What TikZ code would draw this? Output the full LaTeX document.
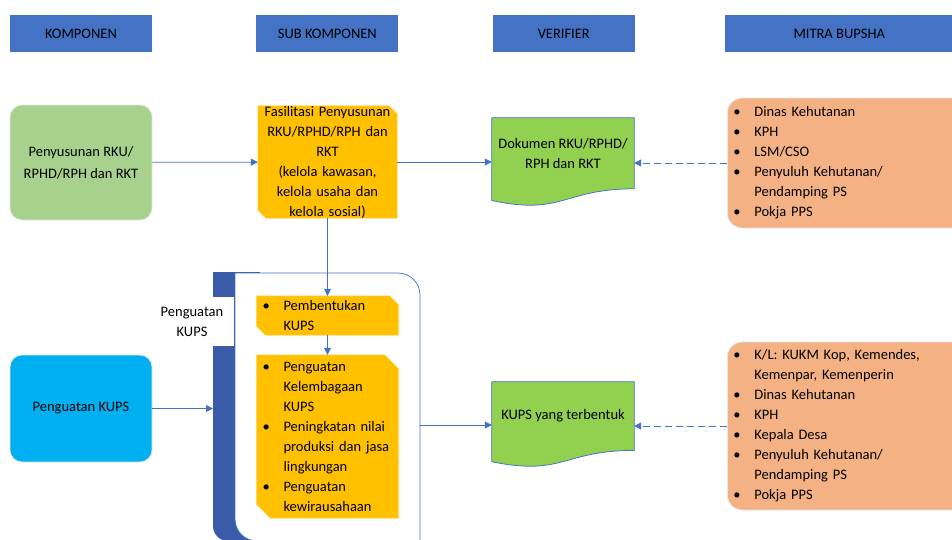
\documentclass[tikz,border=0pt]{standalone}
\usepackage{fontspec}
\setmainfont{Carlito}
\usepackage{tikz}
\usetikzlibrary{arrows.meta, positioning, calc}
\definecolor{hdrblue}{HTML}{4472C4}
\definecolor{barblue}{HTML}{3A5BA8}
\definecolor{leafgreen}{HTML}{A9D18E}
\definecolor{skyblue}{HTML}{00B0F0}
\definecolor{gold}{HTML}{FFC000}
\definecolor{docgreen}{HTML}{92D050}
\definecolor{peach}{HTML}{F4B183}
\pgfdeclarelayer{panel}
\pgfdeclarelayer{shapes}
\pgfsetlayers{panel,shapes,main}
\newcommand{\bodyfont}{\fontsize{14.5pt}{20pt}\selectfont}
\newcommand{\bitem}[1]{\makebox[21pt][l]{\textbullet}\mbox{#1}}
\newcommand{\bcont}[1]{\hspace*{21pt}\mbox{#1}}
% snipped box behind a node
\newcommand{\snipfill}[2]{%
  \fill[gold, draw=gold!55!white, line width=0.6pt]
    (#1.north west) -- ($(#1.north east)+(-#2,0)$) -- ($(#1.north east)+(0,-#2)$)
    -- (#1.south east) -- ($(#1.south west)+(#2,0)$) -- ($(#1.south west)+(0,#2)$) -- cycle;}
% document shape behind a node
\newcommand{\docfill}[1]{%
  \fill[docgreen, draw=hdrblue, line width=0.75pt]
    (#1.north west) -- (#1.north east) -- (#1.south east)
    .. controls (#1.south) and ($(#1.north)!1.38!(#1.south)$)
    .. ($(#1.north west)!1.165!(#1.south west)$) -- cycle;}
\tikzset{
  hdr/.style={
    rectangle, fill=hdrblue,
    minimum width=142pt, minimum height=37pt,
    inner sep=0pt, font=\bodyfont,
  },
  komp/.style={
    rectangle, rounded corners=12pt,
    minimum width=142pt, align=center,
    draw=white!80!gray, line width=0.75pt, font=\bodyfont,
  },
  snip/.style={
    text width=139pt, inner sep=0pt,
    align=center, font=\bodyfont,
  },
  sniplist/.style={
    text width=130pt, minimum width=142pt, inner sep=0pt,
    align=left, font=\bodyfont,
  },
  doc/.style={
    minimum width=142pt, inner sep=0pt,
    align=center, font=\bodyfont,
  },
  mitra/.style={
    rectangle, rounded corners=15pt, anchor=west,
    text width=236pt, inner xsep=6pt, align=left,
    fill=peach, draw=white!80!gray, line width=0.75pt, font=\bodyfont,
  },
  arrow/.style={-{Triangle[length=7pt,width=7pt]}, draw=hdrblue, line width=0.75pt},
  dasharrow/.style={arrow, dash pattern=on 7pt off 4pt, line width=1pt},
}
\begin{document}
\begin{tikzpicture}[x=1pt, y=-1pt]
  \useasboundingbox (0,0) rectangle (952,539);

  % column headers
  \node[hdr] (hkomp) at (81,33.5) {KOMPONEN};
  \node[hdr, right=104pt of hkomp] (hsub) {SUB KOMPONEN};
  \node[hdr, right=94pt of hsub] (hver) {VERIFIER};
  \node[hdr, minimum width=228pt, right=90pt of hver] (hmitra) {MITRA BUPSHA};

  % first row
  \node[komp, fill=leafgreen, minimum height=115pt] (penyusunan) at (81,162.5) {Penyusunan RKU/\\[2pt]RPHD/RPH dan RKT};
  \node[snip, minimum height=112pt] (fasilitasi) at (327.5,162) {Fasilitasi Penyusunan\\RKU/RPHD/RPH dan\\RKT\\(kelola kawasan,\\kelola usaha dan\\kelola sosial)};
  \node[doc, minimum height=70.6pt] (dok1) at (563,153.3) {Dokumen RKU/RPHD/\\RPH dan RKT};
  \node[mitra, minimum height=130pt] (mitra1) at (727,163) {\bitem{Dinas Kehutanan}\\\bitem{KPH}\\\bitem{LSM/CSO}\\\bitem{Penyuluh Kehutanan/}\\\bcont{Pendamping PS}\\\bitem{Pokja PPS}};

  % second row
  \node[komp, fill=skyblue, minimum height=107pt] (penguatan) at (81,408.5) {Penguatan KUPS};
  \coordinate (barin) at (213,408.5);
  \coordinate (panelout) at (420,425);
  \begin{pgfonlayer}{panel}
    \fill[barblue] (213,272) -- (260,272) -- (260,541) -- (228,541)
      arc[start angle=270, end angle=180, radius=15pt] -- cycle;
    \draw[fill=white, draw=hdrblue, line width=0.75pt] (235,273) -- (398,273)
      arc[start angle=90, end angle=0, radius=22pt] -- (420,541) -- (257,541)
      arc[start angle=270, end angle=180, radius=22pt] -- cycle;
  \end{pgfonlayer}
  \node[fill=white, minimum width=84pt, minimum height=49pt, inner sep=0pt, align=center, font=\bodyfont] (kupslabel) at (192,321.5) {Penguatan\\KUPS};
  \node[sniplist, minimum height=39pt] (pembentukan) at (327.5,315.5) {\bitem{Pembentukan}\\\bcont{KUPS}};
  \node[sniplist, minimum height=163pt] (penguatanlist) at (327.5,436.5) {\bitem{Penguatan}\\\bcont{Kelembagaan}\\\bcont{KUPS}\\\bitem{Peningkatan nilai}\\\bcont{produksi dan jasa}\\\bcont{lingkungan}\\\bitem{Penguatan}\\\bcont{kewirausahaan}};
  \node[doc, minimum height=68.2pt] (dok2) at (563,416.1) {KUPS yang terbentuk};
  \node[mitra, minimum height=168pt] (mitra2) at (727,426) {\bitem{K/L: KUKM Kop, Kemendes,}\\\bcont{Kemenpar, Kemenperin}\\\bitem{Dinas Kehutanan}\\\bitem{KPH}\\\bitem{Kepala Desa}\\\bitem{Penyuluh Kehutanan/}\\\bcont{Pendamping PS}\\\bitem{Pokja PPS}};

  \begin{pgfonlayer}{shapes}
    \snipfill{fasilitasi}{8pt}
    \snipfill{pembentukan}{9pt}
    \snipfill{penguatanlist}{14pt}
    \docfill{dok1}
    \docfill{dok2}
  \end{pgfonlayer}

  % connectors
  \draw[arrow] (penyusunan) -- (fasilitasi);
  \draw[arrow] (fasilitasi.east) -- (fasilitasi.east -| dok1.west);
  \draw[dasharrow] (mitra1.west) -- (mitra1.west -| dok1.east);
  \draw[arrow] (fasilitasi.south) -- (pembentukan.north);
  \draw[arrow] (pembentukan) -- (penguatanlist);
  \draw[arrow] (penguatan.east) -- (penguatan.east -| barin);
  \draw[arrow] (panelout) -- (panelout -| dok2.west);
  \draw[dasharrow] (mitra2.west) -- (mitra2.west -| dok2.east);

\end{tikzpicture}
\end{document}
